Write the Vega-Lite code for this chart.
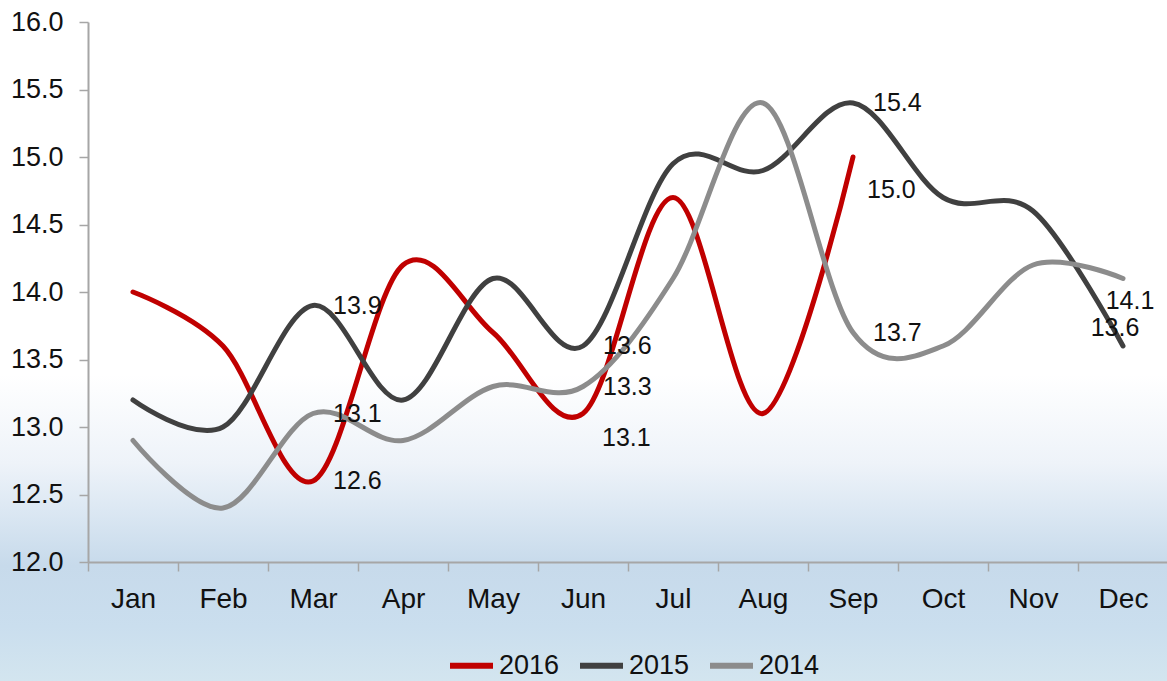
{
  "$schema": "https://vega.github.io/schema/vega-lite/v6.json",
  "width": 1167,
  "height": 681,
  "autosize": {"type": "none"},
  "padding": 0,
  "background": "#ffffff",
  "config": {
    "font": "Liberation Sans",
    "view": {
      "stroke": null,
      "fill": {
        "gradient": "linear", "x1": 0, "y1": 0, "x2": 0, "y2": 1,
        "stops": [
          {"offset": 0, "color": "#ffffff"},
          {"offset": 0.55, "color": "#ffffff"},
          {"offset": 0.68, "color": "#eef3f9"},
          {"offset": 0.76, "color": "#d9e6f2"},
          {"offset": 0.83, "color": "#c7daeb"},
          {"offset": 0.92, "color": "#cadeee"},
          {"offset": 1, "color": "#d3e5ef"}
        ]
      }
    },
    "axis": {"grid": false}
  },
  "data": {
    "values": [
      {"month": "Jan", "year": "2016", "value": 14.0},
      {"month": "Feb", "year": "2016", "value": 13.6},
      {"month": "Mar", "year": "2016", "value": 12.6},
      {"month": "Apr", "year": "2016", "value": 14.2},
      {"month": "May", "year": "2016", "value": 13.7},
      {"month": "Jun", "year": "2016", "value": 13.1},
      {"month": "Jul", "year": "2016", "value": 14.7},
      {"month": "Aug", "year": "2016", "value": 13.1},
      {"month": "Sep", "year": "2016", "value": 15.0},
      {"month": "Jan", "year": "2015", "value": 13.2},
      {"month": "Feb", "year": "2015", "value": 13.0},
      {"month": "Mar", "year": "2015", "value": 13.9},
      {"month": "Apr", "year": "2015", "value": 13.2},
      {"month": "May", "year": "2015", "value": 14.1},
      {"month": "Jun", "year": "2015", "value": 13.6},
      {"month": "Jul", "year": "2015", "value": 14.95},
      {"month": "Aug", "year": "2015", "value": 14.9},
      {"month": "Sep", "year": "2015", "value": 15.4},
      {"month": "Oct", "year": "2015", "value": 14.7},
      {"month": "Nov", "year": "2015", "value": 14.6},
      {"month": "Dec", "year": "2015", "value": 13.6},
      {"month": "Jan", "year": "2014", "value": 12.9},
      {"month": "Feb", "year": "2014", "value": 12.4},
      {"month": "Mar", "year": "2014", "value": 13.1},
      {"month": "Apr", "year": "2014", "value": 12.9},
      {"month": "May", "year": "2014", "value": 13.3},
      {"month": "Jun", "year": "2014", "value": 13.3},
      {"month": "Jul", "year": "2014", "value": 14.1},
      {"month": "Aug", "year": "2014", "value": 15.4},
      {"month": "Sep", "year": "2014", "value": 13.7},
      {"month": "Oct", "year": "2014", "value": 13.6},
      {"month": "Nov", "year": "2014", "value": 14.2},
      {"month": "Dec", "year": "2014", "value": 14.1}
    ]
  },
  "encoding": {
    "x": {
      "field": "month", "type": "nominal", "bandPosition": 0.5,
      "sort": ["Jan","Feb","Mar","Apr","May","Jun","Jul","Aug","Sep","Oct","Nov","Dec"],
      "scale": {"type": "band", "paddingInner": 0, "paddingOuter": 0, "range": [88, 1168]},
      "axis": {
        "title": null, "labelAngle": 0, "tickBand": "extent", "offset": -119,
        "domainColor": "#a6a6a6", "domainWidth": 2, "tickColor": "#a6a6a6", "tickWidth": 1.5, "tickSize": 9,
        "labelFontSize": 28, "labelColor": "#111111", "labelPadding": 14
      }
    },
    "y": {
      "field": "value", "type": "quantitative",
      "scale": {"domain": [12, 16], "nice": false, "zero": false, "range": [562, 22]},
      "axis": {
        "title": null, "values": [12, 12.5, 13, 13.5, 14, 14.5, 15, 15.5, 16], "format": ".1f", "offset": -88,
        "domainColor": "#a6a6a6", "domainWidth": 2, "tickColor": "#a6a6a6", "tickWidth": 1.5, "tickSize": 9,
        "labelFontSize": 27, "labelColor": "#111111", "labelPadding": 16
      }
    }
  },
  "layer": [
    {
      "mark": {"type": "line", "interpolate": "cardinal", "strokeWidth": 5, "strokeCap": "round"},
      "encoding": {
        "color": {
          "field": "year", "type": "nominal",
          "scale": {"domain": ["2016", "2015", "2014"], "range": ["#c00000", "#404040", "#8c8c8c"]},
          "legend": {
            "title": null, "orient": "none", "direction": "horizontal", "legendX": 447, "legendY": 641,
            "symbolType": "stroke", "symbolSize": 1849, "symbolStrokeWidth": 6,
            "labelFontSize": 27, "labelColor": "#111111", "labelOffset": 3, "columnPadding": 8
          }
        }
      }
    },
    {
      "transform": [
        {"filter": {"field": "month", "oneOf": ["Mar", "Jun", "Sep"]}},
        {"filter": "!(datum.year == '2016' && (datum.month == 'Jun' || datum.month == 'Sep'))"}
      ],
      "mark": {"type": "text", "align": "left", "baseline": "middle", "dx": 20, "fontSize": 25, "color": "#111111"},
      "encoding": {"text": {"field": "value", "format": ".1f"}}
    },
    {
      "transform": [{"filter": "datum.year == '2016' && datum.month == 'Jun'"}],
      "mark": {"type": "text", "align": "left", "baseline": "middle", "dx": 19, "dy": 24, "fontSize": 25, "color": "#111111"},
      "encoding": {"text": {"field": "value", "format": ".1f"}}
    },
    {
      "transform": [{"filter": "datum.year == '2016' && datum.month == 'Sep'"}],
      "mark": {"type": "text", "align": "left", "baseline": "middle", "dx": 14, "dy": 33, "fontSize": 25, "color": "#111111"},
      "encoding": {"text": {"field": "value", "format": ".1f"}}
    },
    {
      "transform": [{"filter": "datum.year == '2014' && datum.month == 'Dec'"}],
      "mark": {"type": "text", "align": "center", "baseline": "middle", "dx": 7, "dy": 22, "fontSize": 25, "color": "#111111"},
      "encoding": {"text": {"field": "value", "format": ".1f"}}
    },
    {
      "transform": [{"filter": "datum.year == '2015' && datum.month == 'Dec'"}],
      "mark": {"type": "text", "align": "center", "baseline": "middle", "dx": -8, "dy": -18, "fontSize": 25, "color": "#111111"},
      "encoding": {"text": {"field": "value", "format": ".1f"}}
    }
  ]
}
